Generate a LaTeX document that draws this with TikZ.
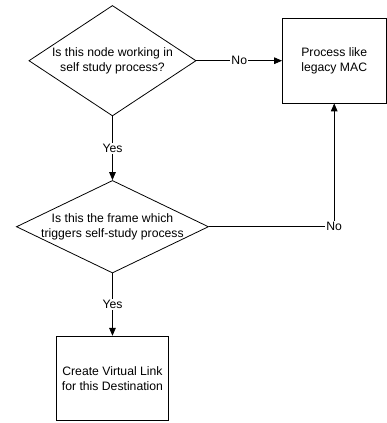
\documentclass[tikz,border=0pt]{standalone}
\usepackage{fontspec}
\setmainfont{Liberation Sans}
\usetikzlibrary{arrows.meta,positioning,shapes.geometric}
\tikzset{
	%Define standard arrow tip
	>={Triangle[length=6pt,width=5pt]},
	%Define style for text
	txt/.style={font=\fontsize{9.2}{11.2}\selectfont},
	%Define style for decision diamonds
	decision/.style={
		diamond,
		draw=black, line width=0.6pt,
		inner sep=0pt},
	question/.style={txt, align=center, inner sep=0pt},
	%Define style for boxes
	action/.style={
		rectangle,
		draw=black, line width=0.6pt,
		minimum height=63.75pt,
		txt, align=center},
	% Define arrow style
	flow/.style={
		->,
		line width=0.6pt},
	answer/.style={txt, fill=white, inner sep=1pt}
}

\begin{document}
\begin{tikzpicture}
	\useasboundingbox (-84.75pt,45.75pt) rectangle (206.25pt,-273pt);
	% first question
	\node[decision, minimum width=126pt, minimum height=83.25pt] (selfstudy) {};
	\node[question] (selfstudytext) at (selfstudy) {Is this node working in\\self study process?};
	% legacy path
	\node[action, minimum width=78pt, right=64.5pt of selfstudy] (legacy) {Process like\\legacy MAC};
	% second question
	\node[decision, minimum width=144.75pt, minimum height=69.75pt, below=48pt of selfstudy] (trigger) {};
	\node[question] (triggertext) at (trigger) {Is this the frame which\\triggers self-study process};
	% virtual link
	\node[action, minimum width=84pt, below=47pt of trigger] (vlink) {Create Virtual Link\\for this Destination};
	\draw[flow]   (selfstudy.east) -- node[answer] {No} (legacy.west);
	\draw[flow]   (selfstudy.south) -- node[answer] {Yes} (trigger.north);
	\draw[flow]   (trigger.south) -- node[answer] {Yes} (vlink.north);
	\draw[flow]   (trigger.east) -| node[answer, pos=0.5] {No} (legacy.south);
\end{tikzpicture}
\end{document}
